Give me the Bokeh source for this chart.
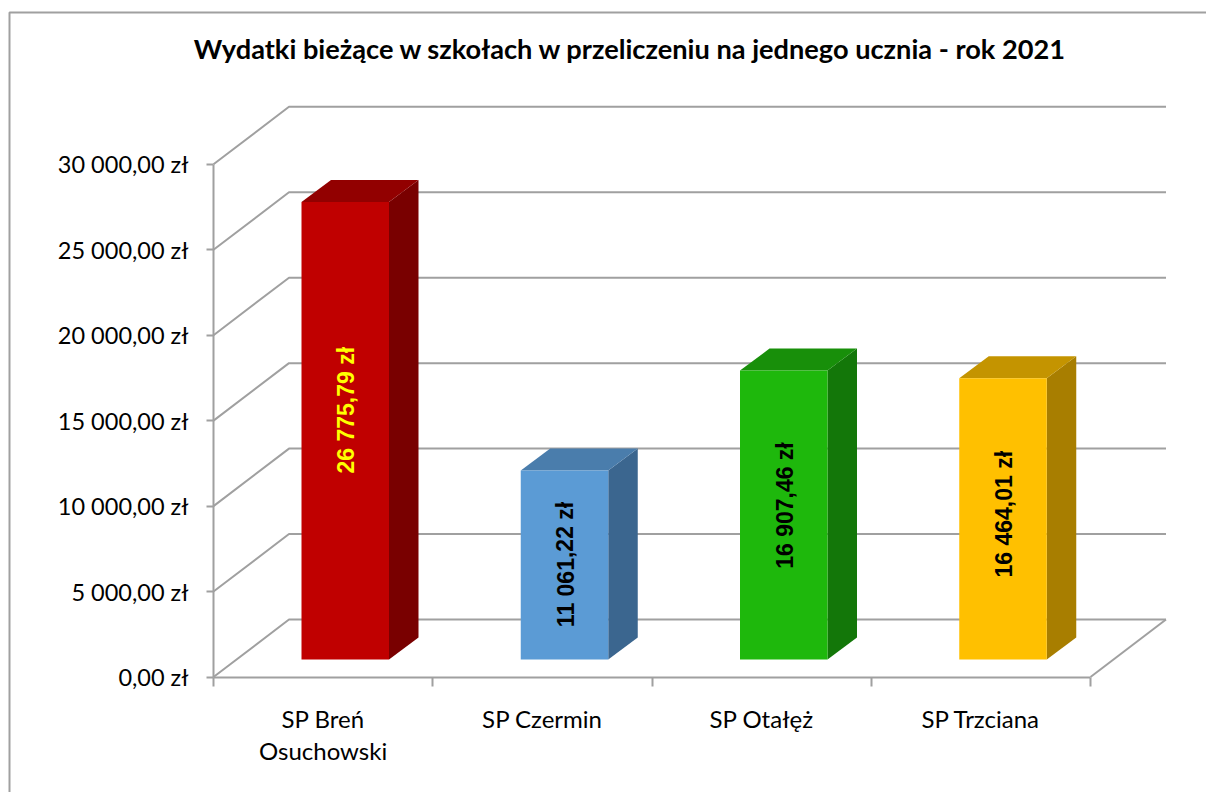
from bokeh.plotting import figure
from bokeh.models import LinearAxis, FixedTicker
from bokeh.core.properties import value
from bokeh.embed import file_html
from bokeh.resources import INLINE

title_text = "Wydatki bieżące w szkołach w przeliczeniu na jednego ucznia - rok 2021"
categories = ["SP Breń\nOsuchowski", "SP Czermin", "SP Otałęż", "SP Trzciana"]
values = [26775.79, 11061.22, 16907.46, 16464.01]
value_labels = ["26 775,79 zł", "11 061,22 zł", "16 907,46 zł", "16 464,01 zł"]
label_shift = [1200, 30, 555, 270]
label_colors = ["#FFFF00", "#000000", "#000000", "#000000"]
front_colors = ["#C00000", "#5B9BD5", "#1EB80C", "#FFC000"]
top_colors = ["#920000", "#4A7DAC", "#188F0A", "#C49400"]
side_colors = ["#790000", "#3B668F", "#137709", "#A87E00"]
y_ticks = [0, 5000, 10000, 15000, 20000, 25000, 30000]
y_tick_labels = ["0,00 zł", "5 000,00 zł", "10 000,00 zł", "15 000,00 zł",
                 "20 000,00 zł", "25 000,00 zł", "30 000,00 zł"]

W, H = 1206, 792
PX_X = 219.25            # pixels per category
PX_Y = 85.45 / 5000      # pixels per value unit
ORIGIN_X, ORIGIN_Y = 213, 676.5
GREY = "#A0A0A0"

# wall depth and bar depth, expressed in data units
DX, DY = 75.5 / PX_X, 57.5 / PX_Y
BAR_W = 87.5 / PX_X
BAR_OFF_X = 88 / PX_X    # left of the bar from the category tick
BASE_Y = 17.5 / PX_Y     # front foot of the bar above the floor front edge
BDX, BDY = 29.5 / PX_X, 22 / PX_Y

x0 = -ORIGIN_X / PX_X
y0 = -(H - ORIGIN_Y) / PX_Y
x1 = x0 + W / PX_X
y1 = y0 + H / PX_Y
p = figure(width=W, height=H, output_backend="svg", toolbar_location=None,
           x_range=(x0, x1), y_range=(y0, y1),
           min_border=0, outline_line_color=None, background_fill_color="white",
           border_fill_color="white", x_axis_type=None, y_axis_type=None)
p.grid.visible = False

# chart-area border: left and top edges only reach the window
p.line([x0 + 9 / PX_X, x0 + 9 / PX_X, x1], [y0, y1 - 12 / PX_Y, y1 - 12 / PX_Y], line_color=GREY, line_width=2)

n = len(categories)
# gridlines on back wall and side wall
for t in y_ticks:
    p.line([0, DX, n + DX], [t, t + DY, t + DY], line_color=GREY, line_width=2)
# floor
p.line([n, n + DX], [0, DY], line_color=GREY, line_width=2)

for i, v in enumerate(values):
    l = i + BAR_OFF_X
    r = l + BAR_W
    b = BASE_Y
    t = v + BASE_Y
    p.patch([r, r + BDX, r + BDX, r], [b, b + BDY, t + BDY, t], fill_color=side_colors[i], line_color=None)
    p.patch([l, l + BDX, r + BDX, r], [t, t + BDY, t + BDY, t], fill_color=top_colors[i], line_color=None)
    p.patch([l, r, r, l], [b, b, t, t], fill_color=front_colors[i], line_color=None)
    p.text([(l + r) / 2 + 1 / PX_X], [(b + t) / 2 + label_shift[i]], text=[value_labels[i]], angle=1.5708,
           text_align="center", text_baseline="middle", text_color=label_colors[i],
           text_font=value("Liberation Sans"), text_font_style="bold", text_font_size="23px")

yax = LinearAxis(fixed_location=0, bounds=(0, 30000), ticker=FixedTicker(ticks=y_ticks),
                 major_label_overrides={t: s for t, s in zip(y_ticks, y_tick_labels)},
                 axis_line_color=GREY, axis_line_width=2,
                 major_tick_line_color=GREY, major_tick_line_width=2,
                 major_tick_in=0, major_tick_out=7, minor_tick_line_color=None,
                 major_label_standoff=18, major_label_text_font="Lato",
                 major_label_text_font_size="23.5px", major_label_text_color="#000000")
p.add_layout(yax, "left")

xax = LinearAxis(fixed_location=0, bounds=(0, n),
                 ticker=FixedTicker(ticks=[i + 0.5 for i in range(n)], minor_ticks=list(range(n + 1))),
                 major_label_overrides={i + 0.5: c for i, c in enumerate(categories)},
                 axis_line_color=GREY, axis_line_width=2,
                 major_tick_line_color=None, major_tick_in=0, major_tick_out=0,
                 minor_tick_line_color=GREY, minor_tick_line_width=2,
                 minor_tick_in=0, minor_tick_out=9,
                 major_label_standoff=18, major_label_text_font="Lato",
                 major_label_text_line_height=1.12,
                 major_label_text_font_size="24px", major_label_text_color="#000000")
p.add_layout(xax, "below")

p.text([x0 + 630 / PX_X], [y1 - 48 / PX_Y], text=[title_text],
       text_align="center", text_baseline="middle", text_color="#000000",
       text_font=value("Lato"), text_font_style="bold", text_font_size="27.2px")

open("out.html", "w").write(file_html(p, INLINE))
